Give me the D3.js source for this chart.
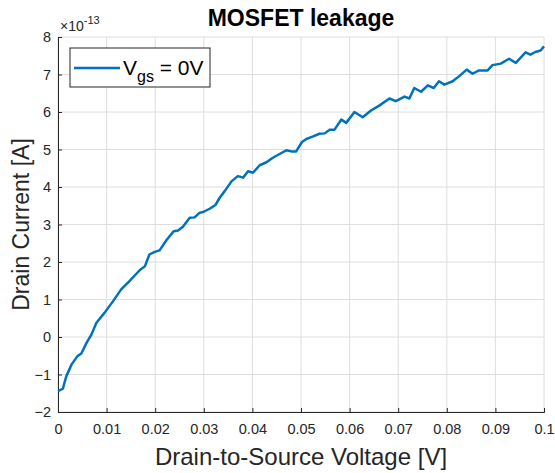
<!DOCTYPE html>
<html>
<head>
<meta charset="utf-8">
<script src="https://cdn.jsdelivr.net/npm/d3@7"></script>
<style>
  body { margin: 0; background: #fff; }
  text { font-family: "Liberation Sans", Arial, sans-serif; }
</style>
</head>
<body>
<div class="chart"></div>
<script>
// drain-source voltage [V]
const vds = [0, 0.001, 0.0017, 0.0028, 0.004, 0.0048, 0.0059, 0.0069, 0.0079, 0.0096,
  0.0113, 0.013, 0.0147, 0.0168, 0.0179, 0.0188, 0.0199, 0.0209, 0.0223, 0.0238,
  0.0247, 0.0257, 0.0271, 0.0281, 0.0291, 0.03, 0.0312, 0.0324, 0.0333, 0.0343,
  0.0357, 0.037, 0.0381, 0.0391, 0.0401, 0.0415, 0.0429, 0.0442, 0.0456, 0.047,
  0.048, 0.049, 0.0502, 0.0511, 0.0525, 0.0538, 0.0549, 0.0559, 0.0569, 0.0583,
  0.0593, 0.061, 0.0627, 0.0644, 0.0661, 0.0682, 0.0695, 0.0713, 0.0723, 0.0733,
  0.0747, 0.0761, 0.0773, 0.0784, 0.0795, 0.0812, 0.0825, 0.0841, 0.0853, 0.0866,
  0.0884, 0.0894, 0.0911, 0.0928, 0.0942, 0.0962, 0.0972, 0.0982, 0.0993, 0.1]
// drain current, x 1e-13 A
const ids = [-1.445, -1.38, -1.05, -0.73, -0.51, -0.44, -0.15, 0.07, 0.38, 0.65,
  0.95, 1.27, 1.49, 1.78, 1.89, 2.2, 2.27, 2.31, 2.58, 2.82,
  2.84, 2.94, 3.18, 3.19, 3.31, 3.34, 3.42, 3.52, 3.72, 3.89,
  4.15, 4.29, 4.25, 4.42, 4.38, 4.58, 4.66, 4.78, 4.88, 4.98,
  4.95, 4.95, 5.2, 5.28, 5.35, 5.42, 5.43, 5.53, 5.53, 5.8,
  5.71, 6.0, 5.86, 6.04, 6.17, 6.36, 6.29, 6.41, 6.36, 6.64,
  6.54, 6.71, 6.64, 6.82, 6.73, 6.82, 6.95, 7.13, 7.02, 7.11,
  7.11, 7.25, 7.29, 7.42, 7.31, 7.59, 7.53, 7.6, 7.64, 7.75]
const xTicks = d3.range(0, 11).map(i => i / 100)
const yTicks = d3.range(-2, 9)
const seriesName = 'V'
const seriesSub = 'gs'
const seriesRest = ' = 0V'

const width = 555, height = 473
const margin = { top: 37, right: 11, bottom: 61, left: 58 }
const w = width - margin.left - margin.right
const h = height - margin.top - margin.bottom

const svg = d3.select('.chart')
    .append('svg')
    .attr('width', width)
    .attr('height', height)

const g = svg.append('g')
    .attr('transform', `translate(${margin.left}, ${margin.top})`)

const xScale = d3.scaleLinear().domain([0, 0.1]).range([0, w])
const yScale = d3.scaleLinear().domain([-2, 8]).range([h, 0])

// grid
g.append('g')
    .selectAll('line')
    .data(xTicks)
    .join('line')
    .attr('x1', d => xScale(d)).attr('x2', d => xScale(d))
    .attr('y1', 0).attr('y2', h)
    .attr('stroke', '#dedede')
g.append('g')
    .selectAll('line')
    .data(yTicks)
    .join('line')
    .attr('x1', 0).attr('x2', w)
    .attr('y1', d => yScale(d)).attr('y2', d => yScale(d))
    .attr('stroke', '#dedede')

// axes
const xAxis = g.append('g')
    .attr('transform', `translate(0, ${h})`)
    .call(d3.axisBottom(xScale).tickValues(xTicks).tickSize(-4).tickPadding(12)
        .tickFormat(d => d === 0 ? '0' : d3.format('.2~f')(d)))
const yAxis = g.append('g')
    .call(d3.axisLeft(yScale).tickValues(yTicks).tickSize(-4).tickPadding(7)
        .tickFormat(d3.format('d')))

;[xAxis, yAxis].forEach(a => {
    a.select('.domain').attr('stroke', '#262626').attr('stroke-width', 1)
    a.selectAll('.tick line').attr('stroke', '#262626')
    a.selectAll('.tick text')
        .attr('fill', '#262626')
        .style('font-size', '14.5px')
        .style('font-family', '"Liberation Sans", Arial, sans-serif')
})

// line
const line = d3.line()
    .x((d, i) => xScale(vds[i]))
    .y(d => yScale(d))
g.append('path')
    .datum(ids)
    .attr('d', line)
    .attr('fill', 'none')
    .attr('stroke', '#0072BD')
    .attr('stroke-width', 2.5)
    .attr('stroke-linejoin', 'round')

// exponent
const expo = g.append('text')
    .attr('x', 2).attr('y', -6)
    .attr('fill', '#262626')
    .style('font-size', '14px')
expo.append('tspan').text('×10')
expo.append('tspan').attr('dy', -7).style('font-size', '11px').text('-13')

// title
svg.append('text')
    .attr('x', margin.left + w / 2).attr('y', 26)
    .attr('text-anchor', 'middle')
    .style('font-size', '23px')
    .style('font-weight', 'bold')
    .attr('fill', '#000')
    .text('MOSFET leakage')

// axis labels
svg.append('text')
    .attr('x', margin.left + w / 2).attr('y', 465)
    .attr('text-anchor', 'middle')
    .attr('fill', '#262626')
    .style('font-size', '24px')
    .text('Drain-to-Source Voltage [V]')
svg.append('text')
    .attr('transform', `translate(29, ${margin.top + h / 2}) rotate(-90)`)
    .attr('text-anchor', 'middle')
    .attr('fill', '#262626')
    .style('font-size', '23px')
    .text('Drain Current [A]')

// legend
const legend = g.append('g').attr('transform', 'translate(12, 11)')
legend.append('rect')
    .attr('width', 140).attr('height', 39)
    .attr('fill', '#fff')
    .attr('stroke', '#262626')
legend.append('line')
    .attr('x1', 4).attr('x2', 50)
    .attr('y1', 20).attr('y2', 20)
    .attr('stroke', '#0072BD').attr('stroke-width', 2.5)
const lt = legend.append('text')
    .attr('x', 53).attr('y', 27)
    .attr('fill', '#000')
    .style('font-size', '21px')
lt.append('tspan').text(seriesName)
lt.append('tspan').attr('dy', 7).style('font-size', '16px').text(seriesSub)
lt.append('tspan').attr('dy', -7).text(seriesRest)
</script>
</body>
</html>
